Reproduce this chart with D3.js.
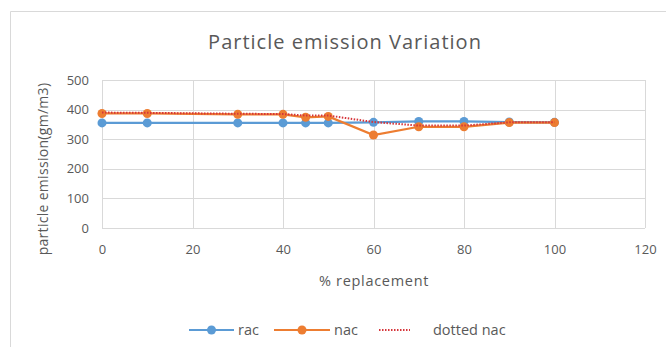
<!DOCTYPE html>
<html>
<head>
<meta charset="utf-8">
<script src="https://cdn.jsdelivr.net/npm/d3@7"></script>
<style>
  html, body { margin: 0; padding: 0; background: #fff; }
  svg { display: block; }
  text { font-family: "Open Sans", "Noto Sans", sans-serif; fill: #595959; }
</style>
</head>
<body>
<svg id="chart" width="666" height="347"></svg>
<script>
// % replacement levels and emission readings (gm/m3)
const racX = [0, 10, 30, 40, 45, 50, 60, 70, 80, 90, 100];
const racY = [355, 355, 355, 355, 355, 355, 357, 360, 360, 358, 357];
const nacX = [0, 10, 30, 40, 45, 50, 60, 70, 80, 90, 100];
const nacY = [387, 387, 384, 384, 374, 377, 314, 342, 342, 356, 356];
const dotX = [0, 10, 30, 40, 45, 50, 60, 70, 80, 90, 100];
const dotY = [390, 389, 386, 385, 380, 380, 358, 346, 346, 357, 357];
const xTicks = [0, 20, 40, 60, 80, 100, 120];
const yTicks = [0, 100, 200, 300, 400, 500];

const svg = d3.select("#chart");
const W = 666, H = 347;
const m = { left: 102, right: 21, top: 80, bottom: 119 };

// chart frame
svg.append("path")
  .attr("d", `M10.5,${H} V11.5 H${W}`)
  .attr("fill", "none").attr("stroke", "#d9d9d9").attr("stroke-width", 1);

const x = d3.scaleLinear().domain([0, 120]).range([m.left, W - m.right]);
const y = d3.scaleLinear().domain([0, 500]).range([H - m.bottom, m.top]);

// gridlines
const grid = svg.append("g");
grid.selectAll("line.h").data(yTicks).join("line")
  .attr("x1", x(0)).attr("x2", x(120))
  .attr("y1", d => Math.round(y(d)) + 0.5).attr("y2", d => Math.round(y(d)) + 0.5)
  .attr("stroke", "#d9d9d9").attr("stroke-width", 1);
grid.selectAll("line.v").data(xTicks).join("line")
  .attr("y1", y(0)).attr("y2", y(500))
  .attr("x1", d => Math.round(x(d)) + 0.5).attr("x2", d => Math.round(x(d)) + 0.5)
  .attr("stroke", "#d9d9d9").attr("stroke-width", 1);

// axes (labels only)
const xAxis = svg.append("g")
  .attr("transform", `translate(0,${y(0)})`)
  .call(d3.axisBottom(x).tickValues(xTicks).tickSize(0).tickPadding(17));
const yAxis = svg.append("g")
  .attr("transform", `translate(${x(0)},0)`)
  .call(d3.axisLeft(y).tickValues(yTicks).tickSize(0).tickPadding(13));
[xAxis, yAxis].forEach(g => {
  g.select(".domain").remove();
  g.selectAll("text").attr("font-size", 13).style("fill", "#595959")
    .attr("font-family", "\"Open Sans\", sans-serif");
});

// title and axis titles
svg.append("text").attr("x", 345).attr("y", 49).attr("text-anchor", "middle")
  .attr("font-size", 20).attr("letter-spacing", 1).text("Particle emission Variation");
svg.append("text").attr("x", 374).attr("y", 286).attr("text-anchor", "middle")
  .attr("font-size", 14.5).attr("letter-spacing", 0.7).text("% replacement");
svg.append("text").attr("transform", "translate(48,169) rotate(-90)")
  .attr("text-anchor", "middle").attr("font-size", 14).attr("letter-spacing", 0.3)
  .text("particle emission(gm/m3)");

const line = d3.line().x(d => x(d[0])).y(d => y(d[1]));
const racData = racX.map((v, i) => [v, racY[i]]);
const nacData = nacX.map((v, i) => [v, nacY[i]]);
const dotData = dotX.map((v, i) => [v, dotY[i]]);

const BLUE = "#5b9bd5", ORANGE = "#ed7d31", RED = "#d6353a";

function series(data, color) {
  svg.append("path").datum(data).attr("d", line)
    .attr("fill", "none").attr("stroke", color).attr("stroke-width", 2.25);
  svg.append("g").selectAll("circle").data(data).join("circle")
    .attr("cx", d => x(d[0])).attr("cy", d => y(d[1])).attr("r", 4.5)
    .attr("fill", color);
}
series(racData, BLUE);
series(nacData, ORANGE);
svg.append("path").datum(dotData).attr("d", line)
  .attr("fill", "none").attr("stroke", RED).attr("stroke-width", 2)
  .attr("stroke-dasharray", "1.5,1.5");

// legend
const ly = 330;
const leg = svg.append("g");
function legLine(x1, x2, color, marker, dashed) {
  leg.append("line").attr("x1", x1).attr("x2", x2).attr("y1", ly).attr("y2", ly)
    .attr("stroke", color).attr("stroke-width", 2)
    .attr("stroke-dasharray", dashed ? "1.5,1.5" : null);
  if (marker) leg.append("circle").attr("cx", (x1 + x2) / 2).attr("cy", ly).attr("r", 4.5).attr("fill", color);
}
legLine(189, 234, BLUE, true, false);
leg.append("text").attr("x", 238).attr("y", ly + 5).attr("font-size", 14.5).text("rac");
legLine(274, 330, ORANGE, true, false);
leg.append("text").attr("x", 334).attr("y", ly + 5).attr("font-size", 14.5).text("nac");
legLine(379, 410, RED, false, true);
leg.append("text").attr("x", 433).attr("y", ly + 5).attr("font-size", 14.5).text("dotted nac");
</script>
</body>
</html>
